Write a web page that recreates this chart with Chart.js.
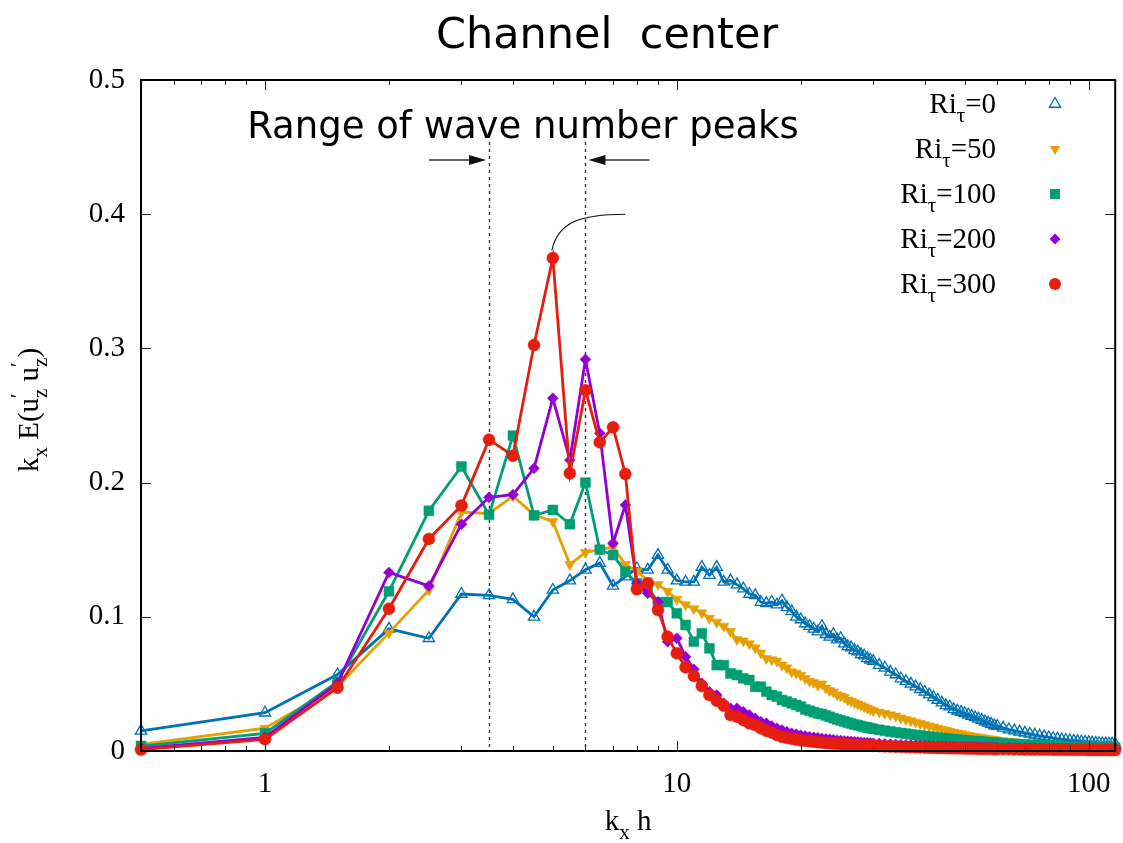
<!DOCTYPE html>
<html>
<head>
<meta charset="utf-8">
<script src="https://cdn.jsdelivr.net/npm/chart.js@4.4.1/dist/chart.umd.min.js"></script>
<style>
  html, body { margin: 0; padding: 0; background: #fff; }
  #chart { display: block; }
</style>
</head>
<body>
<canvas id="chart" width="1123" height="843"></canvas>
<script>
// wave numbers k_x h (0.5 steps up to 30, then coarser in the dense tail)
const kx = [
  0.5, 1, 1.5, 2, 2.5, 3, 3.5, 4, 4.5, 5, 5.5, 6, 6.5, 7, 7.5, 8, 8.5, 9, 9.5, 10,
  10.5, 11, 11.5, 12, 12.5, 13, 13.5, 14, 14.5, 15, 15.5, 16, 16.5, 17, 17.5, 18, 18.5, 19, 19.5, 20,
  20.5, 21, 21.5, 22, 22.5, 23, 23.5, 24, 24.5, 25, 25.5, 26, 26.5, 27, 27.5, 28, 28.5, 29, 29.5, 30,
  31, 32, 33, 34, 35, 36, 37, 38, 39, 40, 41, 42, 43, 44, 45, 46, 47, 48, 49, 50,
  51, 52, 53, 54, 55, 56, 57, 58, 59, 60,
  62, 64, 66, 68, 70, 72, 74, 76, 78, 80, 82, 84, 86, 88, 90, 92, 94, 96, 98, 100,
  102, 104, 106, 108, 110, 112, 114, 116, 118
];

// k_x E(u'_z u'_z) for each Ri_tau
const ri0 = [
  0.015, 0.0285, 0.057, 0.091, 0.084, 0.117, 0.116, 0.113, 0.100, 0.120, 0.127, 0.135, 0.140, 0.123, 0.130, 0.136, 0.135, 0.146, 0.135, 0.127,
  0.126, 0.126, 0.137, 0.131, 0.137, 0.126, 0.127, 0.124, 0.121, 0.117, 0.116, 0.111, 0.110, 0.111, 0.109, 0.112, 0.107, 0.104, 0.100, 0.098,
  0.095, 0.093, 0.091, 0.089, 0.093, 0.087, 0.085, 0.087, 0.083, 0.084, 0.080, 0.078, 0.077, 0.075, 0.074, 0.072, 0.071, 0.069, 0.068, 0.067,
  0.064, 0.062, 0.059, 0.057, 0.054, 0.052, 0.050, 0.048, 0.046, 0.044, 0.042, 0.040, 0.038, 0.036, 0.034, 0.033, 0.031, 0.030, 0.029, 0.028,
  0.027, 0.026, 0.025, 0.024, 0.023, 0.022, 0.021, 0.020, 0.019, 0.0185,
  0.0172, 0.016, 0.0152, 0.0143, 0.0135, 0.0127, 0.012, 0.0113, 0.0107, 0.0101, 0.0095, 0.009, 0.0086, 0.0082, 0.0078, 0.0075, 0.0072, 0.0069, 0.0066, 0.0064,
  0.0062, 0.006, 0.0058, 0.0056, 0.0055, 0.0054, 0.0053, 0.0052, 0.0051
];
const ri50 = [
  0.005, 0.017, 0.048, 0.088, 0.120, 0.178, 0.177, 0.190, 0.176, 0.171, 0.139, 0.148, 0.150, 0.152, 0.139, 0.134, 0.127, 0.124, 0.119, 0.113,
  0.109, 0.106, 0.103, 0.099, 0.096, 0.093, 0.089, 0.083, 0.082, 0.080, 0.077, 0.073, 0.069, 0.068, 0.067, 0.064, 0.062, 0.059, 0.058, 0.0565,
  0.054, 0.052, 0.051, 0.049, 0.050, 0.047, 0.045, 0.044, 0.042, 0.041, 0.040, 0.038, 0.037, 0.036, 0.035, 0.034, 0.033, 0.032, 0.031, 0.030,
  0.029, 0.028, 0.027, 0.026, 0.0245, 0.0235, 0.0225, 0.0215, 0.0205, 0.0196, 0.0187, 0.0178, 0.017, 0.0162, 0.0154, 0.0147, 0.014, 0.0134, 0.0128, 0.0122,
  0.0117, 0.0112, 0.0107, 0.0103, 0.0099, 0.0095, 0.0091, 0.0088, 0.0085, 0.0082,
  0.0077, 0.0072, 0.0068, 0.0064, 0.006, 0.0057, 0.0054, 0.0051, 0.0049, 0.0047, 0.0045, 0.0043, 0.0041, 0.004, 0.0038, 0.0037, 0.0036, 0.0035, 0.0034, 0.0033,
  0.0032, 0.0031, 0.003, 0.0029, 0.0029, 0.0028, 0.0028, 0.0027, 0.0027
];
const ri100 = [
  0.0037, 0.0132, 0.0517, 0.119, 0.179, 0.212, 0.176, 0.235, 0.1756, 0.1796, 0.169, 0.200, 0.150, 0.146, 0.1336, 0.125, 0.122, 0.111, 0.111, 0.1026,
  0.0939, 0.0815, 0.0877, 0.0765, 0.064, 0.064, 0.0578, 0.0566, 0.0541, 0.0529, 0.0479, 0.0479, 0.0442, 0.0417, 0.0405, 0.038, 0.0368, 0.0355, 0.0343, 0.033,
  0.031, 0.030, 0.029, 0.028, 0.0275, 0.0265, 0.0255, 0.0245, 0.0235, 0.0228, 0.022, 0.0212, 0.0205, 0.0198, 0.0192, 0.0186, 0.018, 0.0175, 0.017, 0.0165,
  0.0158, 0.0151, 0.0145, 0.0139, 0.0134, 0.0129, 0.0124, 0.0119, 0.0115, 0.0111, 0.0107, 0.0103, 0.01, 0.0096, 0.0093, 0.009, 0.0087, 0.0084, 0.0082, 0.0079,
  0.0077, 0.0075, 0.0073, 0.0071, 0.0069, 0.0067, 0.0065, 0.0063, 0.0062, 0.006,
  0.0057, 0.0055, 0.0052, 0.005, 0.0048, 0.0046, 0.0044, 0.0042, 0.0041, 0.0039, 0.0038, 0.0037, 0.0036, 0.0035, 0.0034, 0.0033, 0.0032, 0.0031, 0.003, 0.003,
  0.0029, 0.0028, 0.0028, 0.0027, 0.0027, 0.0026, 0.0026, 0.0025, 0.0025
];
const ri200 = [
  0.002, 0.0102, 0.0504, 0.133, 0.123, 0.169, 0.189, 0.191, 0.2106, 0.2628, 0.2168, 0.2918, 0.2367, 0.1548, 0.1833, 0.125, 0.1175, 0.111, 0.0815, 0.084,
  0.0703, 0.0609, 0.0504, 0.0442, 0.0417, 0.0355, 0.0318, 0.0318, 0.0293, 0.0268, 0.0243, 0.0218, 0.0206, 0.0186, 0.0169, 0.0156, 0.0144, 0.0132, 0.0125, 0.0118,
  0.0112, 0.0107, 0.0102, 0.0098, 0.0094, 0.009, 0.0087, 0.0084, 0.0081, 0.0078, 0.0075, 0.0073, 0.0071, 0.0069, 0.0067, 0.0065, 0.0063, 0.0061, 0.006, 0.0058,
  0.0055, 0.0053, 0.0051, 0.0049, 0.0047, 0.0045, 0.0044, 0.0042, 0.0041, 0.004, 0.0039, 0.0038, 0.0037, 0.0036, 0.0035, 0.0034, 0.0033, 0.0032, 0.0031, 0.003,
  0.0029, 0.0029, 0.0028, 0.0027, 0.0027, 0.0026, 0.0026, 0.0025, 0.0025, 0.0024,
  0.0023, 0.0022, 0.0021, 0.0021, 0.002, 0.0019, 0.0019, 0.0018, 0.0018, 0.0017, 0.0017, 0.0016, 0.0016, 0.0016, 0.0015, 0.0015, 0.0015, 0.0014, 0.0014, 0.0014,
  0.0013, 0.0013, 0.0013, 0.0013, 0.0012, 0.0012, 0.0012, 0.0012, 0.0011
];
const ri300 = [
  0.001, 0.0087, 0.0472, 0.106, 0.158, 0.183, 0.232, 0.220, 0.3025, 0.3674, 0.2069, 0.2688, 0.230, 0.2412, 0.2064, 0.1205, 0.125, 0.105, 0.0852, 0.0728,
  0.0624, 0.0559, 0.0484, 0.0417, 0.0375, 0.0338, 0.0268, 0.0256, 0.0231, 0.0206, 0.0194, 0.0169, 0.0151, 0.0137, 0.0119, 0.0107, 0.0098, 0.0091, 0.0085, 0.008,
  0.0076, 0.0072, 0.0069, 0.0066, 0.0063, 0.006, 0.0058, 0.0056, 0.0054, 0.0052, 0.005, 0.0048, 0.0047, 0.0045, 0.0044, 0.0043, 0.0042, 0.0041, 0.004, 0.0039,
  0.0037, 0.0035, 0.0034, 0.0032, 0.0031, 0.003, 0.0029, 0.0028, 0.0027, 0.0026, 0.0025, 0.0024, 0.0023, 0.0023, 0.0022, 0.0021, 0.0021, 0.002, 0.002, 0.0019,
  0.0019, 0.0018, 0.0018, 0.0017, 0.0017, 0.0016, 0.0016, 0.0016, 0.0015, 0.0015,
  0.0014, 0.0014, 0.0013, 0.0013, 0.0012, 0.0012, 0.0012, 0.0011, 0.0011, 0.0011, 0.001, 0.001, 0.001, 0.001, 0.0009, 0.0009, 0.0009, 0.0009, 0.0009, 0.0008,
  0.0008, 0.0008, 0.0008, 0.0008, 0.0008, 0.0007, 0.0007, 0.0007, 0.0007
];

const riLabels = ['0', '50', '100', '200', '300'];
const xTickValues = [0.5, 0.6, 0.7, 0.8, 0.9, 1, 2, 3, 4, 5, 6, 7, 8, 9, 10, 20, 30, 40, 50, 60, 70, 80, 90, 100];
const xMajorTicks = [1, 10, 100];
const yTickValues = [0, 0.1, 0.2, 0.3, 0.4, 0.5];
const peakRange = [3.5, 6];

const SERIF = '"Liberation Serif", "Times New Roman", serif';
const SANS = '"DejaVu Sans", sans-serif';

// 系列ごとの見た目
const styles = [
  { color: '#0072b2', point: 'triangle', radius: 6.5, hollow: true },
  { color: '#e69f00', point: 'triangleDown', radius: 6 },
  { color: '#009e73', point: 'rect', radius: 7 },
  { color: '#9400d3', point: 'rectRot', radius: 5.5 },
  { color: '#e51e10', point: 'circle', radius: 6 }
];
const seriesValues = [ri0, ri50, ri100, ri200, ri300];

const datasets = seriesValues.map((vals, i) => {
  const s = styles[i];
  return {
    label: 'Ri_tau=' + riLabels[i],
    data: kx.map((k, j) => ({ x: k, y: vals[j] })),
    borderColor: s.color,
    backgroundColor: s.color,
    borderWidth: 2.8,
    pointStyle: s.point === 'triangleDown' ? 'triangle' : s.point,
    pointRotation: s.point === 'triangleDown' ? 180 : 0,
    pointRadius: s.radius,
    pointBorderWidth: s.hollow ? 1.3 : 0.5,
    pointBorderColor: s.color,
    pointBackgroundColor: s.hollow ? 'rgba(255,255,255,0)' : s.color,
    fill: false,
    tension: 0,
    clip: false,
    order: seriesValues.length - i
  };
});

// 凡例用のマーカー
function drawMarker(ctx, style, x, y, r, color, hollow) {
  ctx.save();
  ctx.fillStyle = color;
  ctx.strokeStyle = color;
  ctx.lineWidth = 1.3;
  ctx.beginPath();
  if (style === 'circle') {
    ctx.arc(x, y, r, 0, Math.PI * 2);
  } else if (style === 'rect') {
    const s = r * Math.SQRT1_2;
    ctx.rect(x - s, y - s, 2 * s, 2 * s);
  } else if (style === 'rectRot') {
    ctx.moveTo(x, y - r); ctx.lineTo(x + r, y); ctx.lineTo(x, y + r); ctx.lineTo(x - r, y);
    ctx.closePath();
  } else {
    const d = style === 'triangle' ? 1 : -1;
    ctx.moveTo(x, y - d * r);
    ctx.lineTo(x + r * 0.866, y + d * r * 0.5);
    ctx.lineTo(x - r * 0.866, y + d * r * 0.5);
    ctx.closePath();
  }
  if (hollow) ctx.stroke(); else ctx.fill();
  ctx.restore();
}

// 添字付きテキスト: parts = [{t}, {sub}, {sup, sub}]
function richWidth(ctx, parts, size) {
  let w = 0;
  parts.forEach(p => {
    if (p.t !== undefined) {
      ctx.font = size + 'px ' + SERIF;
      w += ctx.measureText(p.t).width;
    } else {
      ctx.font = Math.round(size * 0.72) + 'px ' + SERIF;
      w += Math.max(p.sub ? ctx.measureText(p.sub).width : 0, p.sup ? ctx.measureText(p.sup).width : 0);
    }
  });
  return w;
}
function drawRich(ctx, parts, x, y, size) {
  ctx.textAlign = 'left';
  ctx.textBaseline = 'alphabetic';
  let cx = x;
  parts.forEach(p => {
    if (p.t !== undefined) {
      ctx.font = size + 'px ' + SERIF;
      ctx.fillText(p.t, cx, y);
      cx += ctx.measureText(p.t).width;
    } else {
      ctx.font = Math.round(size * 0.72) + 'px ' + SERIF;
      let w = 0;
      if (p.sub) { ctx.fillText(p.sub, cx, y + size * 0.3); w = ctx.measureText(p.sub).width; }
      if (p.sup) { ctx.fillText(p.sup, cx, y - size * 0.45); w = Math.max(w, ctx.measureText(p.sup).width); }
      cx += w;
    }
  });
}

const yLabelParts = [{ t: 'k' }, { sub: 'x' }, { t: ' E(u' }, { sup: '′', sub: 'z' }, { t: ' u' }, { sup: '′', sub: 'z' }, { t: ')' }];
const xLabelParts = [{ t: 'k' }, { sub: 'x' }, { t: ' h' }];

// 枠と内向きの目盛り
const framePlugin = {
  id: 'frame',
  afterDatasetsDraw(chart) {
    const { ctx, chartArea: a, scales: { x, y } } = chart;
    ctx.save();
    ctx.strokeStyle = '#222';
    ctx.lineWidth = 1;
    ctx.beginPath();
    xTickValues.forEach(v => {
      const px = Math.round(x.getPixelForValue(v)) + 0.5;
      const len = xMajorTicks.includes(v) ? 10 : 5;
      ctx.moveTo(px, a.bottom); ctx.lineTo(px, a.bottom - len);
      ctx.moveTo(px, a.top); ctx.lineTo(px, a.top + len);
    });
    yTickValues.forEach(v => {
      const py = Math.round(y.getPixelForValue(v)) + 0.5;
      ctx.moveTo(a.left, py); ctx.lineTo(a.left + 10, py);
      ctx.moveTo(a.right, py); ctx.lineTo(a.right - 10, py);
    });
    ctx.stroke();
    ctx.strokeStyle = '#000';
    ctx.lineWidth = 2;
    ctx.strokeRect(a.left, a.top, a.right - a.left, a.bottom - a.top);
    ctx.restore();
  }
};

// 注記（ピーク範囲の点線と矢印）
const rangePlugin = {
  id: 'range',
  beforeDatasetsDraw(chart) {
    const { ctx, chartArea: a, scales: { x } } = chart;
    ctx.save();
    ctx.strokeStyle = '#333';
    ctx.lineWidth = 1.4;
    ctx.setLineDash([3, 4]);
    peakRange.forEach(k => {
      const px = Math.round(x.getPixelForValue(k)) + 0.5;
      ctx.beginPath();
      ctx.moveTo(px, 142);
      ctx.lineTo(px, a.bottom);
      ctx.stroke();
    });
    ctx.restore();
  },
  afterDraw(chart) {
    const { ctx, scales: { x, y } } = chart;
    ctx.save();
    ctx.fillStyle = '#000';

    // タイトル
    ctx.font = '43px ' + SANS;
    ctx.textAlign = 'center';
    ctx.textBaseline = 'alphabetic';
    ctx.fillText('Channel  center', 607, 48);

    ctx.font = '37px ' + SANS;
    ctx.fillText('Range of wave number peaks', 523, 138);

    // 矢印
    const x1 = x.getPixelForValue(peakRange[0]);
    const x2 = x.getPixelForValue(peakRange[1]);
    const ay = 160;
    const arrow = (from, to) => {
      const dir = Math.sign(to - from);
      ctx.strokeStyle = '#333';
      ctx.lineWidth = 1.3;
      ctx.beginPath();
      ctx.moveTo(from, ay); ctx.lineTo(to - dir * 14, ay);
      ctx.stroke();
      ctx.fillStyle = '#111';
      ctx.beginPath();
      ctx.moveTo(to, ay);
      ctx.lineTo(to - dir * 17, ay - 5);
      ctx.lineTo(to - dir * 17, ay + 5);
      ctx.closePath();
      ctx.fill();
    };
    arrow(x1 - 60, x1 - 3);
    arrow(x2 + 64, x2 + 3);

    // 最大ピークへの引き出し線
    const sx = x.getPixelForValue(5) - 1, sy = y.getPixelForValue(0.373);
    const ex = x.getPixelForValue(7.5), ey = y.getPixelForValue(0.4);
    ctx.strokeStyle = '#111';
    ctx.lineWidth = 1.1;
    ctx.beginPath();
    ctx.moveTo(sx, sy);
    ctx.bezierCurveTo(sx + 6, sy - 28, sx + 28, ey, ex, ey);
    ctx.stroke();

    // 凡例
    ctx.fillStyle = '#000';
    const size = 29;
    riLabels.forEach((lab, i) => {
      const cy = 104 + i * 45;
      const parts = [{ t: 'Ri' }, { sub: 'τ' }, { t: '=' + lab }];
      const w = richWidth(ctx, parts, size);
      drawRich(ctx, parts, 996 - w, cy + 9, size);
      const s = styles[i];
      drawMarker(ctx, s.point, 1055, cy, s.radius, s.color, s.hollow);
    });

    // 軸ラベル
    ctx.fillStyle = '#000';
    const xw = richWidth(ctx, xLabelParts, size);
    drawRich(ctx, xLabelParts, 628 - xw / 2, 830, size);

    ctx.translate(38, 410);
    ctx.rotate(-Math.PI / 2);
    const yw = richWidth(ctx, yLabelParts, size);
    drawRich(ctx, yLabelParts, -yw / 2, 0, size);
    ctx.restore();
  }
};

new Chart(document.getElementById('chart'), {
  type: 'line',
  data: { datasets: datasets },
  options: {
    responsive: false,
    animation: false,
    layout: { padding: { top: 80, right: 3, left: 0, bottom: 0 } },
    plugins: {
      legend: { display: false },
      tooltip: { enabled: false }
    },
    scales: {
      x: {
        type: 'logarithmic',
        min: 0.5,
        max: 116,
        afterBuildTicks: scale => { scale.ticks = xTickValues.map(v => ({ value: v })); },
        afterFit: scale => {
          scale.height = 92;
          // 最後のラベル分の余白を取らない
          scale.paddingLeft = 0;
          scale.paddingRight = 0;
        },
        ticks: {
          autoSkip: false,
          maxRotation: 0,
          padding: 16,
          color: '#000',
          font: { family: SERIF, size: 29 },
          callback: v => (xMajorTicks.includes(v) ? String(v) : '')
        },
        grid: { display: false, drawTicks: false },
        border: { display: false }
      },
      y: {
        min: 0,
        max: 0.5,
        afterBuildTicks: scale => { scale.ticks = yTickValues.map(v => ({ value: v })); },
        afterFit: scale => { scale.width = 141; },
        ticks: {
          padding: 16,
          color: '#000',
          font: { family: SERIF, size: 29 },
          callback: v => (v === 0 ? '0' : v.toFixed(1))
        },
        grid: { display: false, drawTicks: false },
        border: { display: false }
      }
    }
  },
  plugins: [rangePlugin, framePlugin]
});
</script>
</body>
</html>
